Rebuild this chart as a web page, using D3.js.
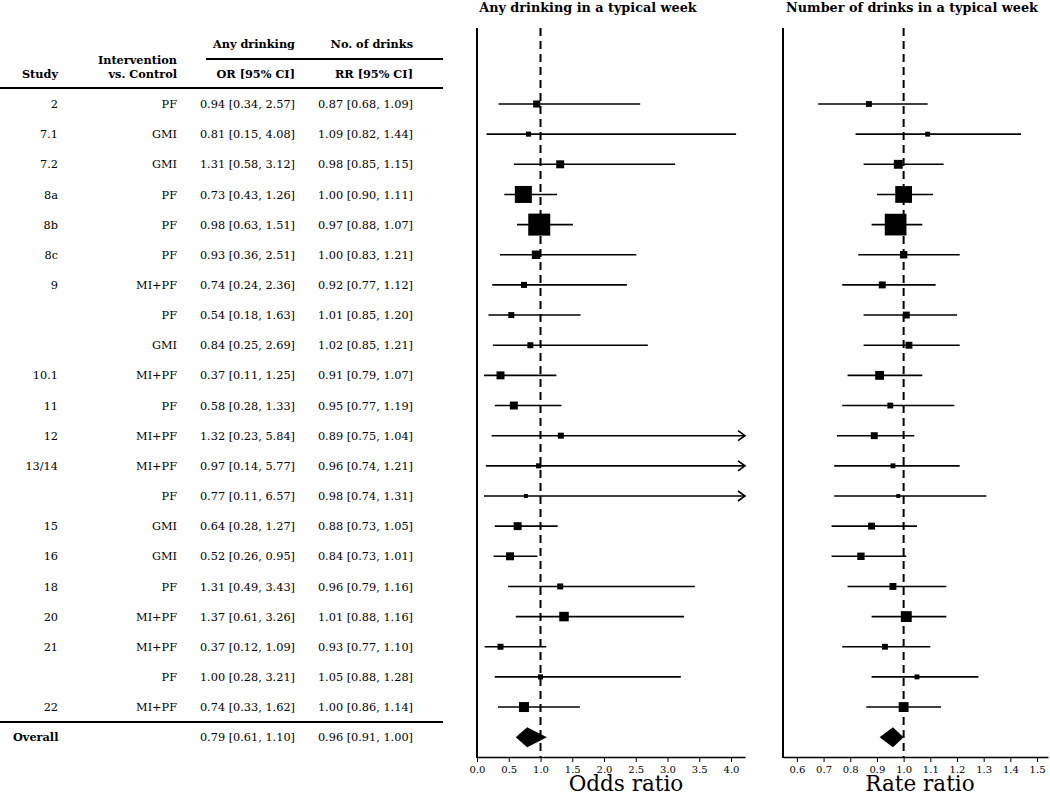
<!DOCTYPE html>
<html><head><meta charset="utf-8">
<script src="https://cdn.jsdelivr.net/npm/d3@7/dist/d3.min.js"></script>
<style>body{margin:0;background:#fff}svg{display:block}text{font-family:"DejaVu Serif",serif;fill:#000}</style>
</head><body><svg id="c" width="1050" height="794"></svg>
<script>
const studies=["2","7.1","7.2","8a","8b","8c","9","","","10.1","11","12","13/14","","15","16","18","20","21","","22"];
const interventions=["PF","GMI","GMI","PF","PF","PF","MI+PF","PF","GMI","MI+PF","PF","MI+PF","MI+PF","PF","GMI","GMI","PF","MI+PF","MI+PF","PF","MI+PF"];
const orEst=[0.94,0.81,1.31,0.73,0.98,0.93,0.74,0.54,0.84,0.37,0.58,1.32,0.97,0.77,0.64,0.52,1.31,1.37,0.37,1.00,0.74];
const orLo=[0.34,0.15,0.58,0.43,0.63,0.36,0.24,0.18,0.25,0.11,0.28,0.23,0.14,0.11,0.28,0.26,0.49,0.61,0.12,0.28,0.33];
const orHi=[2.57,4.08,3.12,1.26,1.51,2.51,2.36,1.63,2.69,1.25,1.33,5.84,5.77,6.57,1.27,0.95,3.43,3.26,1.09,3.21,1.62];
const rrEst=[0.87,1.09,0.98,1.00,0.97,1.00,0.92,1.01,1.02,0.91,0.95,0.89,0.96,0.98,0.88,0.84,0.96,1.01,0.93,1.05,1.00];
const rrLo=[0.68,0.82,0.85,0.90,0.88,0.83,0.77,0.85,0.85,0.79,0.77,0.75,0.74,0.74,0.73,0.73,0.79,0.88,0.77,0.88,0.86];
const rrHi=[1.09,1.44,1.15,1.11,1.07,1.21,1.12,1.20,1.21,1.07,1.19,1.04,1.21,1.31,1.05,1.01,1.16,1.16,1.10,1.28,1.14];
const orWeight=[2.9,1.5,3.7,16.9,28.3,4.2,2.1,2.1,2.1,3.7,3.7,2.1,1.5,0.9,3.7,3.7,2.1,5.3,2.1,1.5,5.8];
const rrWeight=[2.0,1.4,4.6,16.4,27.5,3.2,2.8,2.8,2.8,4.6,2.0,2.8,1.4,0.9,2.8,3.2,2.8,6.9,2.0,1.4,5.7];
const overallOR=[0.79,0.61,1.10];
const overallRR=[0.96,0.91,1.00];
const orTicks=[0,0.5,1,1.5,2,2.5,3,3.5,4];
const rrTicks=[0.6,0.7,0.8,0.9,1.0,1.1,1.2,1.3,1.4,1.5];

const svg=d3.select("#c");
const n=studies.length;
const y=d3.scaleLinear().domain([0,n]).range([104,737.2]);
const yTop=28,yBot=757;
const size=d3.scaleSqrt().domain([0,28.3]).range([0,22]);
const f2=d3.format(".2f");
const ci=(e,l,h)=>`${f2(e)} [${f2(l)}, ${f2(h)}]`;

// ---- table ----
const tbl=svg.append("g").style("font-size","11.3px");
const hdr=(x,yy,t,anchor)=>tbl.append("text").attr("x",x).attr("y",yy).attr("text-anchor",anchor||"end").attr("font-weight","bold").text(t);
hdr(295,48,"Any drinking");hdr(413,48,"No. of drinks");
hdr(177,64,"Intervention");hdr(177,78,"vs. Control");hdr(58,78,"Study");
hdr(295,78,"OR [95% CI]");hdr(413,78,"RR [95% CI]");
tbl.append("line").attr("x1",206).attr("x2",443).attr("y1",59).attr("y2",59).attr("stroke","#000").attr("stroke-width",2);
tbl.append("line").attr("x1",0).attr("x2",443).attr("y1",88).attr("y2",88).attr("stroke","#000").attr("stroke-width",2);
tbl.append("line").attr("x1",0).attr("x2",443).attr("y1",722).attr("y2",722).attr("stroke","#000").attr("stroke-width",2);
d3.range(n).forEach(i=>{
  const yy=y(i);
  tbl.append("text").attr("x",58).attr("y",yy).attr("dy","0.36em").attr("text-anchor","end").text(studies[i]);
  tbl.append("text").attr("x",177).attr("y",yy).attr("dy","0.36em").attr("text-anchor","end").text(interventions[i]);
  tbl.append("text").attr("x",295).attr("y",yy).attr("dy","0.36em").attr("text-anchor","end").text(ci(orEst[i],orLo[i],orHi[i]));
  tbl.append("text").attr("x",413).attr("y",yy).attr("dy","0.36em").attr("text-anchor","end").text(ci(rrEst[i],rrLo[i],rrHi[i]));
});
tbl.append("text").attr("x",13).attr("y",y(n)).attr("dy","0.36em").attr("font-weight","bold").text("Overall");
tbl.append("text").attr("x",295).attr("y",y(n)).attr("dy","0.36em").attr("text-anchor","end").text(ci(...overallOR));
tbl.append("text").attr("x",413).attr("y",y(n)).attr("dy","0.36em").attr("text-anchor","end").text(ci(...overallRR));

// ---- panels ----
function panel(x,ticks,fmt,est,lo,hi,w,ov,title,titleX,xlabel,labelX){
  const g=svg.append("g");
  const [x0,x1]=x.range();
  const dmax=x.domain()[1];
  g.append("text").attr("x",titleX).attr("y",12).attr("text-anchor","middle").attr("font-weight","bold").style("font-size","12.8px").text(title);
  g.append("line").attr("x1",x(1)).attr("x2",x(1)).attr("y1",yTop).attr("y2",yBot).attr("stroke","#000").attr("stroke-width",2).attr("stroke-dasharray","8,5");
  d3.range(n).forEach(i=>{
    const yy=y(i);
    const over=hi[i]>dmax;
    const xe=over?x(dmax):x(hi[i]);
    g.append("line").attr("x1",x(lo[i])).attr("x2",xe).attr("y1",yy).attr("y2",yy).attr("stroke","#000").attr("stroke-width",1.6);
    if(over){
      g.append("path").attr("d",`M${xe-7},${yy-5}L${xe},${yy}L${xe-7},${yy+5}`).attr("fill","none").attr("stroke","#000").attr("stroke-width",1.6);
    }
    const s=size(w[i]);
    g.append("rect").attr("x",x(est[i])-s/2).attr("y",yy-s/2).attr("width",s).attr("height",s).attr("fill","#000");
  });
  const yo=y(n);
  g.append("path").attr("d",`M${x(ov[1])},${yo}L${x(ov[0])},${yo-10}L${x(ov[2])},${yo}L${x(ov[0])},${yo+10}Z`).attr("fill","#000");
  g.append("line").attr("x1",x0).attr("x2",x0).attr("y1",yTop).attr("y2",yBot+1).attr("stroke","#000").attr("stroke-width",2);
  const ax=g.append("g").attr("transform",`translate(0,${yBot})`).call(d3.axisBottom(x).tickValues(ticks).tickFormat(fmt).tickSize(5).tickSizeOuter(0));
  ax.select(".domain").attr("stroke-width",1.6);
  ax.selectAll("text").style("font-family","DejaVu Serif").style("font-size","10px").attr("y",9);
  g.append("text").attr("x",labelX).attr("y",791).attr("text-anchor","middle").style("font-size","21.5px").text(xlabel);
}
const xOR=d3.scaleLinear().domain([0,4.22]).range([477,745]);
const xRR=d3.scaleLinear().domain([0.548,1.541]).range([783,1048]);
panel(xOR,orTicks,d3.format(".1f"),orEst,orLo,orHi,orWeight,overallOR,"Any drinking in a typical week",588,"Odds ratio",626);
panel(xRR,rrTicks,d3.format(".1f"),rrEst,rrLo,rrHi,rrWeight,overallRR,"Number of drinks in a typical week",912,"Rate ratio",920);
</script></body></html>
